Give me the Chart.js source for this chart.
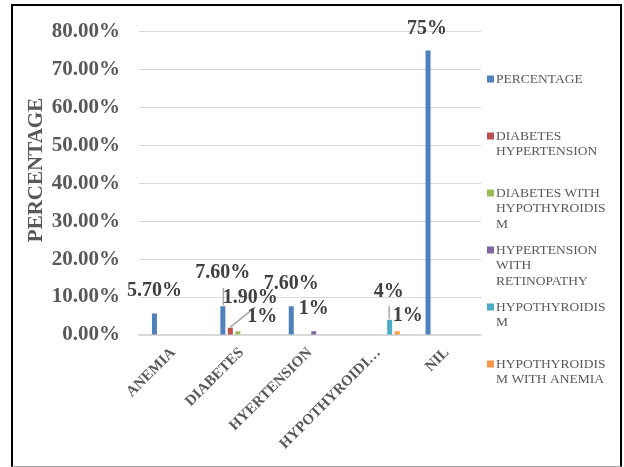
<!DOCTYPE html>
<html><head><meta charset="utf-8">
<script src="https://cdn.jsdelivr.net/npm/chart.js@4"></script>
<style>
html,body{margin:0;padding:0;background:#fff;}
#wrap{position:relative;width:624px;height:467px;}
canvas{position:absolute;left:0;top:0;}
#frame{position:absolute;left:11px;top:4px;width:611px;height:463px;box-sizing:border-box;border:2px solid #000;border-bottom:1px solid #a6a6a6;pointer-events:none;}
</style></head><body>
<div id="wrap"><canvas id="c" width="624" height="467"></canvas><div id="frame"></div></div>
<script>
// ---- data ----
const categories = ["ANEMIA", "DIABETES", "HYERTENSION", "HYPOTHYROIDI\u2026", "NIL"];
const seriesNames = ["PERCENTAGE", "DIABETES HYPERTENSION", "DIABETES WITH HYPOTHYROIDISM",
  "HYPERTENSION WITH RETINOPATHY", "HYPOTHYROIDISM", "HYPOTHYROIDISM WITH ANEMIA"];
const percentage              = [5.7, 7.6, 7.6, null, 75];
const diabetesHypertension    = [null, 1.9, null, null, null];
const diabetesHypothyroidism  = [null, 1, null, null, null];
const hypertensionRetinopathy = [null, null, 1, null, null];
const hypothyroidism          = [null, null, null, 4, null];
const hypothyroidismAnemia    = [null, null, null, 1, null];
const percentageLabels              = ["5.70%", "7.60%", "7.60%", null, "75%"];
const diabetesHypertensionLabels    = [null, "1.90%", null, null, null];
const diabetesHypothyroidismLabels  = [null, "1%", null, null, null];
const hypertensionRetinopathyLabels = [null, null, "1%", null, null];
const hypothyroidismLabels          = [null, null, null, "4%", null];
const hypothyroidismAnemiaLabels    = [null, null, null, "1%", null];
const yTickValues = [0, 10, 20, 30, 40, 50, 60, 70, 80];
const yAxisTitle = "PERCENTAGE";

// ---- styling / layout ----
const colors = ["#4F81BD", "#C0504D", "#9BBB59", "#8064A2", "#4BACC6", "#F79646"];
const SERIF = '"Liberation Serif", "Times New Roman", serif';
const TEXT_GRAY = "#595959";
const seriesValues = [percentage, diabetesHypertension, diabetesHypothyroidism,
  hypertensionRetinopathy, hypothyroidism, hypothyroidismAnemia];
const seriesLabels = [percentageLabels, diabetesHypertensionLabels, diabetesHypothyroidismLabels,
  hypertensionRetinopathyLabels, hypothyroidismLabels, hypothyroidismAnemiaLabels];
// label placement tweaks (pixels relative to bar top centre), keyed "series,category"
const labelPlacement = {
  "0,1": {dx: 0, dy: -28, leader: [0.5, -18, 0.5, -1]},
  "1,1": {dx: 20, dy: -25},
  "2,1": {dx: 24.5, dy: -9, leader: [-7.5, -4, 17.5, -24]},
  "4,3": {dx: -1, dy: -23, leader: [-0.5, -14, -0.5, -1]},
  "5,3": {dx: 10.5, dy: -10},
  "0,4": {dx: -1, dy: -17}
};

const datasets = seriesNames.map((name, i) => ({
  label: name,
  data: seriesValues[i],
  backgroundColor: colors[i],
  borderWidth: 0,
  categoryPercentage: 0.658,
  barPercentage: 0.667
}));

const dataLabelPlugin = {
  id: 'dataLabels',
  afterDatasetsDraw(chart) {
    const ctx = chart.ctx;
    ctx.save();
    chart.data.datasets.forEach((ds, si) => {
      const meta = chart.getDatasetMeta(si);
      meta.data.forEach((bar, ci) => {
        const p = labelPlacement[si + "," + ci];
        if (!p || !p.leader || ds.data[ci] == null) return;
        ctx.strokeStyle = "#A6A6A6";
        ctx.lineWidth = 1.5;
        ctx.beginPath();
        ctx.moveTo(bar.x + p.leader[0], bar.y + p.leader[1]);
        ctx.lineTo(bar.x + p.leader[2], bar.y + p.leader[3]);
        ctx.stroke();
      });
    });
    ctx.font = "bold 20px " + SERIF;
    ctx.fillStyle = "#404040";
    ctx.textAlign = "center";
    ctx.textBaseline = "alphabetic";
    chart.data.datasets.forEach((ds, si) => {
      const meta = chart.getDatasetMeta(si);
      meta.data.forEach((bar, ci) => {
        const txt = seriesLabels[si][ci];
        if (txt == null || ds.data[ci] == null) return;
        const p = labelPlacement[si + "," + ci] || {dx: 0, dy: -17};
        ctx.fillText(txt, bar.x + p.dx, bar.y + p.dy);
      });
    });
    ctx.restore();
  }
};

function wrapText(ctx, text, maxW) {
  const words = text.split(" ");
  const lines = [];
  let cur = "";
  const pushWord = (w) => {
    while (ctx.measureText(w).width > maxW) {
      let k = w.length;
      while (k > 1 && ctx.measureText(w.slice(0, k)).width > maxW) k--;
      lines.push(w.slice(0, k));
      w = w.slice(k);
    }
    return w;
  };
  words.forEach(w => {
    const test = cur ? cur + " " + w : w;
    if (ctx.measureText(test).width <= maxW) { cur = test; return; }
    if (cur) lines.push(cur);
    cur = pushWord(w);
  });
  if (cur) lines.push(cur);
  return lines;
}

const legendPlugin = {
  id: 'sideLegend',
  afterDraw(chart) {
    const ctx = chart.ctx;
    ctx.save();
    ctx.font = "13.5px " + SERIF;
    ctx.textBaseline = "middle";
    ctx.textAlign = "left";
    chart.data.datasets.forEach((ds, i) => {
      const y0 = 79 + i * 57;
      ctx.fillStyle = ds.backgroundColor;
      ctx.fillRect(487, y0 - 3.5, 7, 7);
      ctx.fillStyle = TEXT_GRAY;
      wrapText(ctx, ds.label, 114).forEach((ln, k) => {
        ctx.fillText(ln, 496, y0 + k * 15.7);
      });
    });
    ctx.font = "bold 21px " + SERIF;
    ctx.fillStyle = TEXT_GRAY;
    ctx.textAlign = "center";
    ctx.translate(37, 170);
    ctx.rotate(-Math.PI / 2);
    ctx.fillText(yAxisTitle, 0, 0);
    ctx.restore();
  }
};

new Chart(document.getElementById('c'), {
  type: 'bar',
  data: { labels: categories, datasets },
  options: {
    responsive: false,
    animation: false,
    devicePixelRatio: 1,
    layout: { padding: { left: 0, right: 143, top: 29, bottom: 0 } },
    plugins: { legend: { display: false }, tooltip: { enabled: false } },
    scales: {
      x: {
        grid: { display: false, drawTicks: false },
        border: { display: true, color: "#D9D9D9", width: 1.5 },
        ticks: {
          autoSkip: false, maxRotation: 45, minRotation: 45, padding: 9,
          color: TEXT_GRAY, font: { family: SERIF, size: 15, weight: 'bold' }
        },
        afterFit(s) { s.height = 467 - 335; }
      },
      y: {
        min: 0, max: 80,
        afterBuildTicks(s) { s.ticks = yTickValues.map(v => ({ value: v })); },
        grid: { color: "#D9D9D9", lineWidth: 1, drawTicks: false },
        border: { display: false },
        ticks: {
          padding: 19, color: TEXT_GRAY,
          font: { family: SERIF, size: 21, weight: 'bold' },
          callback: v => v.toFixed(2) + "%"
        },
        afterFit(s) { s.width = 139; }
      }
    }
  },
  plugins: [dataLabelPlugin, legendPlugin]
});
</script>
</body></html>
